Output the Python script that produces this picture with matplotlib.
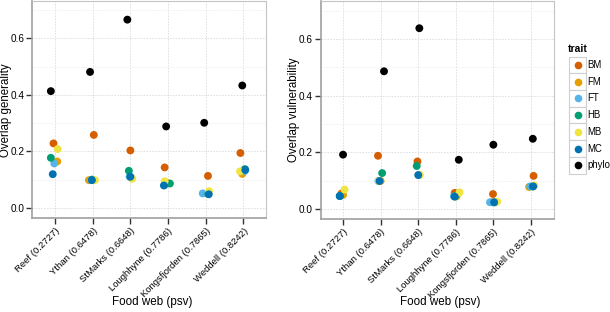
import matplotlib
matplotlib.use("Agg")
import matplotlib.pyplot as plt
from matplotlib.ticker import FixedLocator
from matplotlib.lines import Line2D
from matplotlib.patches import Rectangle

plt.rcParams['font.family'] = ['Liberation Sans', 'DejaVu Sans']

webs = ["Reef (0.2727)", "Ythan (0.6478)", "StMarks (0.6648)",
        "Loughhyne (0.7786)", "Kongsfjorden (0.7865)", "Weddell (0.8242)"]
traits = ["BM", "FM", "FT", "HB", "MB", "MC", "phylo"]
colors = ["#D55E00", "#E69F00", "#56B4E9", "#009E73", "#F0E442", "#0072B2", "#000000"]

# Overlap generality per trait by food web
generality = {
    "BM":    [0.228, 0.258, 0.203, 0.143, 0.113, 0.194],
    "FM":    [0.164, 0.098, 0.105, 0.090, 0.050, 0.120],
    "FT":    [0.157, 0.098, 0.110, 0.082, 0.051, 0.130],
    "HB":    [0.177, 0.100, 0.131, 0.086, 0.050, 0.137],
    "MB":    [0.208, 0.098, 0.103, 0.094, 0.059, 0.129],
    "MC":    [0.119, 0.098, 0.110, 0.079, 0.048, 0.134],
    "phylo": [0.413, 0.481, 0.666, 0.288, 0.301, 0.433],
}
# Overlap vulnerability per trait by food web
vulnerability = {
    "BM":    [0.055, 0.188, 0.168, 0.057, 0.053, 0.117],
    "FM":    [0.050, 0.099, 0.120, 0.045, 0.024, 0.078],
    "FT":    [0.046, 0.099, 0.120, 0.045, 0.024, 0.080],
    "HB":    [0.046, 0.127, 0.152, 0.045, 0.024, 0.080],
    "MB":    [0.069, 0.099, 0.121, 0.059, 0.026, 0.083],
    "MC":    [0.046, 0.099, 0.120, 0.044, 0.024, 0.080],
    "phylo": [0.192, 0.486, 0.638, 0.174, 0.227, 0.248],
}
# horizontal jitter (category units) as seen in the reference
jitter_gen = {
    "BM":    [-0.04, 0.03, 0.00, -0.09, 0.06, -0.08],
    "FM":    [0.06, -0.10, 0.03, -0.05, 0.05, -0.03],
    "FT":    [-0.02, -0.04, -0.02, -0.08, -0.08, 0.03],
    "HB":    [-0.11, -0.01, -0.04, 0.05, 0.07, 0.04],
    "MB":    [0.07, 0.06, 0.05, -0.09, 0.09, -0.09],
    "MC":    [-0.06, -0.02, 0.00, -0.11, 0.08, 0.05],
    "phylo": [-0.11, -0.07, -0.08, -0.05, -0.04, -0.03],
}
jitter_vul = {
    "BM":    [-0.04, -0.07, -0.02, -0.03, -0.01, 0.07],
    "FM":    [0.00, 0.00, 0.03, 0.02, -0.03, -0.05],
    "FT":    [-0.08, -0.06, 0.02, -0.05, -0.09, -0.02],
    "HB":    [-0.08, 0.04, -0.04, -0.02, 0.05, 0.05],
    "MB":    [0.04, -0.05, 0.04, 0.10, 0.10, 0.09],
    "MC":    [-0.09, -0.03, 0.00, -0.03, 0.02, 0.06],
    "phylo": [0.00, 0.09, 0.03, 0.08, 0.00, 0.05],
}

W, H = 610, 312
fig = plt.figure(figsize=(W / 100, H / 100), dpi=100)

def make_ax(x0, x1, ytop, ybot, ylim, data, jit, ylabel, ylab_x):
    ax = fig.add_axes([x0 / W, (H - ybot) / H, (x1 - x0) / W, (ybot - ytop) / H])
    xs = range(1, len(webs) + 1)
    for t, c in zip(traits, colors):
        ax.scatter([x + j for x, j in zip(xs, jit[t])], data[t], s=32, color=c,
                   edgecolors='none', zorder=3)
    ax.set_xlim(0.4, 6.6)
    ax.set_ylim(*ylim)
    ax.yaxis.set_major_locator(FixedLocator([0.0, 0.2, 0.4, 0.6]))
    ax.yaxis.set_minor_locator(FixedLocator([0.1, 0.3, 0.5, 0.7]))
    ax.set_yticklabels(["0.0", "0.2", "0.4", "0.6"])
    ax.set_xticks(list(xs))
    ax.set_xticklabels(webs, rotation=45, ha='right', rotation_mode='anchor')
    ax.grid(True, which='major', color='#dcdcdc', lw=0.6, ls=(0, (2, 1.5)))
    ax.grid(True, which='minor', axis='y', color='#ececec', lw=0.5, ls=(0, (2, 1.5)))
    ax.set_axisbelow(True)
    for sp in ax.spines.values():
        sp.set_color('#c4c4c4')
        sp.set_linewidth(0.8)
    for s in ('left', 'bottom'):
        ax.spines[s].set_color('#a0a0a0')
        ax.spines[s].set_linewidth(1.2)
    ax.tick_params(which='major', length=4, width=1, color='#333333', pad=1.5)
    ax.tick_params(axis='y', labelsize=7.2)
    ax.tick_params(axis='x', labelsize=6.8, pad=2)
    ax.tick_params(which='minor', length=0)
    ax.set_xlabel("Food web (psv)", fontsize=8.4, va='center')
    ax.xaxis.set_label_coords((x0 + x1) / 2 / W + 3 / W, 1 - 302 / H, transform=fig.transFigure)
    ax.set_ylabel(ylabel, fontsize=8.3, va='center')
    ax.yaxis.set_label_coords(ylab_x / W, 1 - 110 / H, transform=fig.transFigure)
    return ax

ax1 = make_ax(32.4, 266, 1, 218, (-0.036, 0.732), generality, jitter_gen,
              "Overlap generality", 6)
ax2 = make_ax(320.5, 553.5, 1, 219, (-0.035, 0.734), vulnerability, jitter_vul,
              "Overlap vulnerability", 294)

# legend (ggplot-style keys)
fig.text(568 / W, 1 - 49 / H, "trait", fontsize=7.5, fontweight='bold', va='center', ha='left')
for i, (t, c) in enumerate(zip(traits, colors)):
    yc = 65 + i * 16.7
    fig.patches.append(Rectangle((569 / W, 1 - (yc + 8.35) / H), 17 / W, 16.7 / H,
                                 transform=fig.transFigure, facecolor='white',
                                 edgecolor='#cfcfcf', lw=0.8))
    fig.lines.append(Line2D([577.5 / W], [1 - yc / H], transform=fig.transFigure,
                            marker='o', ms=5.5, color=c, mec='none', ls='none'))
    fig.text(587 / W, 1 - yc / H, t, fontsize=6.9, va='center', ha='left')

fig.savefig("out.png", dpi=100)
